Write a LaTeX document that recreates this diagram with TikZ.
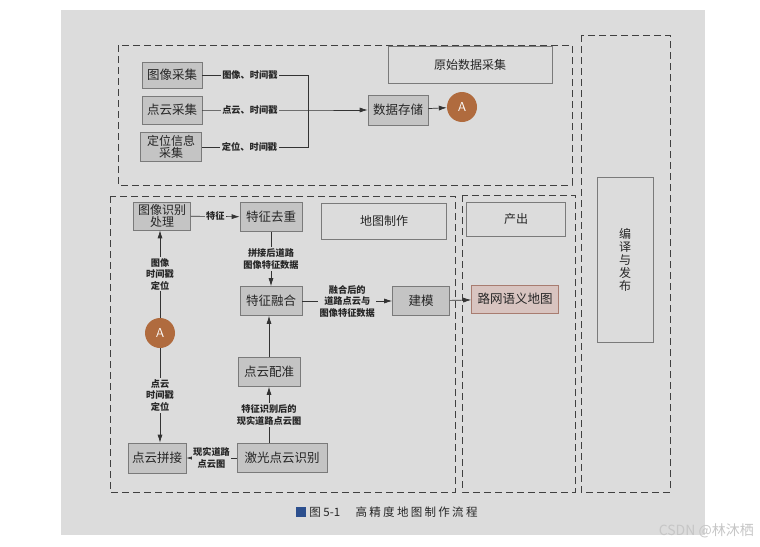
\documentclass[tikz,border=0pt]{standalone}
\usepackage{fontspec}
\setmainfont{Noto Sans CJK SC}
\newfontfamily\capfont[LetterSpace=20]{Noto Sans CJK SC}
\usetikzlibrary{positioning, arrows.meta}
\definecolor{pagegray}{HTML}{DCDCDC}
\definecolor{boxgray}{HTML}{C4C4C4}
\definecolor{boxline}{HTML}{7A7A7A}
\definecolor{circbrown}{HTML}{B06B3E}
\definecolor{mapfill}{HTML}{D8C4C0}
\definecolor{mapline}{HTML}{A87C70}
\definecolor{capblue}{HTML}{2C4F8E}

\begin{document}
\begin{tikzpicture}[x=1pt, y=-1pt,
        region/.style={draw=black!75, dash pattern=on 7pt off 4pt, line width=0.8pt},
        box/.style={draw=boxline, fill=boxgray, line width=0.6pt, inner sep=1pt, align=center, text=black!85, font=\fontsize{12.5}{13}\selectfont},
        title/.style={draw=boxline, line width=0.6pt, align=center, text=black!85, font=\fontsize{12}{12.5}\selectfont},
        conn/.style={circle, fill=circbrown, minimum size=30pt, inner sep=0pt, text=white, font=\sffamily\fontsize{13}{13}\selectfont},
        lbl/.style={fill=pagegray, inner sep=1.5pt, align=center, text=black!85, font=\bfseries\fontsize{9.2}{11.5}\selectfont},
        line/.style={draw=black!80, line width=0.7pt},
        arrow/.style={line, -{Latex[length=8pt, width=5pt]}}
    ]
        \useasboundingbox (0,0) rectangle (760,546);
        \fill[white] (0,0) rectangle (760,546);
        \fill[pagegray] (61,10) rectangle (705,535);

        % dashed regions
        \draw[region] (118,45) rectangle (572,185);
        \draw[region] (110,196) rectangle (455,492);
        \draw[region] (462,195) rectangle (575,492);
        \draw[region] (581,35) rectangle (670,492);

        % raw data collection
        \node[title, minimum width=164pt, minimum height=37pt] (rawtitle) at (470,65) {原始数据采集};
        \node[box, minimum width=60pt, minimum height=26pt] (img) at (172,75) {图像采集};
        \node[box, minimum width=60pt, minimum height=28pt] (pc) at (172,110) {点云采集};
        \node[box, minimum width=61pt, minimum height=29pt, font=\fontsize{12}{12}\selectfont] (loc) at (171,147) {定位信息\\采集};
        \node[box, minimum width=60pt, minimum height=30pt] (store) at (398,110) {数据存储};
        \node[conn] (a1) at (462,107) {A};
        \coordinate (bus1) at (308,75);
        \coordinate (bus3) at (308,147);

        \draw[line] (img) -- node[lbl, pos=0.45] {图像、时间戳} (bus1) -- (bus3) -- node[lbl, pos=0.55] {定位、时间戳} (loc);
        \draw[arrow] (pc) -- node[lbl, pos=0.45] {点云、时间戳} (pc.east -| bus1) -- (store);
        \draw[arrow] (store) -- (a1);

        % map making
        \node[title, minimum width=125pt, minimum height=36pt] (maptitle) at (384,221) {地图制作};
        \node[box, minimum width=57pt, minimum height=28pt, font=\fontsize{12}{12}\selectfont] (recog) at (162,216) {图像识别\\处理};
        \node[box, minimum width=62pt, minimum height=29pt] (dedup) at (271,217) {特征去重};
        \node[box, minimum width=62pt, minimum height=29pt] (fuse) at (271,301) {特征融合};
        \node[box, minimum width=57pt, minimum height=29pt] (model) at (421,301) {建模};
        \node[conn] (a2) at (160,333) {A};
        \node[box, minimum width=62pt, minimum height=29pt] (reg) at (269,372) {点云配准};
        \node[box, minimum width=58pt, minimum height=30pt] (stitch) at (157,458) {点云拼接};
        \node[box, minimum width=90pt, minimum height=29pt] (lidar) at (282,458) {激光点云识别};

        \draw[arrow] (recog) -- node[lbl] {特征} (dedup);
        \draw[arrow] (dedup) -- node[lbl] {拼接后道路\\图像特征数据} (fuse);
        \draw[arrow] (fuse) -- node[lbl] {融合后的\\道路点云与\\图像特征数据} (model);
        \draw[arrow] (a2) -- node[lbl] {图像\\时间戳\\定位} (a2 |- recog.south);
        \draw[arrow] (a2) -- node[lbl] {点云\\时间戳\\定位} (a2 |- stitch.north);
        \draw[arrow] (lidar) -- node[lbl] {现实道路\\点云图} (stitch);
        \draw[arrow] (reg |- lidar.north) -- node[lbl] {特征识别后的\\现实道路点云图} (reg);
        \draw[arrow] (reg) -- (fuse.south -| reg);

        % output and publishing
        \node[title, minimum width=99pt, minimum height=34pt] (outtitle) at (516,219) {产出};
        \node[box, draw=mapline, fill=mapfill, minimum width=87pt, minimum height=28pt] (semmap) at (515,299) {路网语义地图};
        \draw[arrow] (model) -- (semmap);
        \node[title, minimum width=56pt, minimum height=165pt, font=\fontsize{12}{13}\selectfont] (pubtitle) at (625,260) {编\\译\\与\\发\\布};

        % caption
        \node[fill=capblue, minimum size=10pt, inner sep=0pt] (capmark) at (301,512) {};
        \node[right=3pt of capmark, inner sep=0pt, text=black!85, font=\fontsize{11.5}{12}\selectfont] (capnum) {图 5-1};
        \node[right=15pt of capnum, inner sep=0pt, text=black!85, font=\capfont\fontsize{11.5}{12}\selectfont] (caption) {高精度地图制作流程};
        \node[anchor=east, inner sep=0pt, text=gray!45, font=\fontsize{14}{14}\selectfont] (watermark) at (754,531) {CSDN @林沐栖};
    \end{tikzpicture}
\end{document}
